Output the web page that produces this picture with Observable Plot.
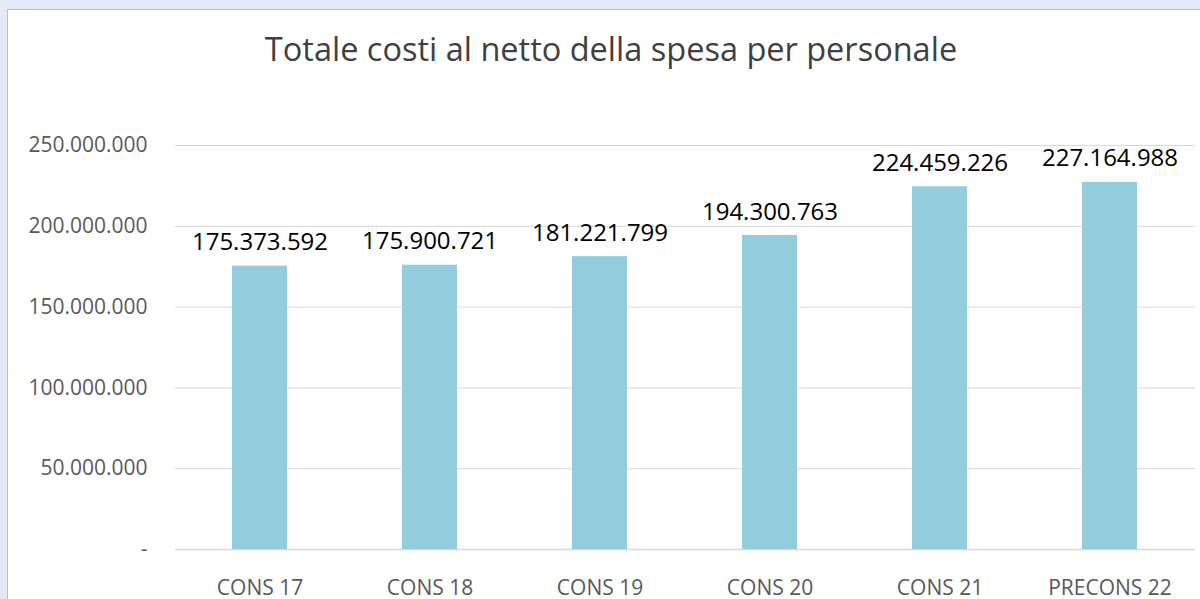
<!DOCTYPE html>
<html>
<head>
<meta charset="utf-8">
<script src="https://cdn.jsdelivr.net/npm/d3@7"></script>
<script src="https://cdn.jsdelivr.net/npm/@observablehq/plot@0.6"></script>
<style>
  html, body { margin: 0; padding: 0; }
  body {
    width: 1200px; height: 599px; overflow: hidden; position: relative;
    background: #e2eaf5;
    background-image:
      radial-gradient(circle at 20% 30%, rgba(255,255,255,0.5) 0, rgba(255,255,255,0) 40px),
      radial-gradient(circle at 70% 80%, rgba(255,255,255,0.4) 0, rgba(255,255,255,0) 50px);
    font-family: "Open Sans", sans-serif;
  }
  #panel {
    position: absolute; left: 7px; top: 9px; width: 1210px; height: 620px;
    background: #ffffff; border: 1px solid #bfbfbf; box-sizing: border-box;
  }
  #title {
    position: absolute; left: 7px; top: 33px; width: 1208px; text-align: center;
    font-family: "Open Sans", sans-serif; font-size: 32.5px; color: #404040;
    line-height: 1; white-space: nowrap;
  }
  #chart { position: absolute; left: 0; top: 100px; }
</style>
</head>
<body>
<div id="panel"></div>
<div id="title">Totale costi al netto della spesa per personale</div>
<div id="chart"></div>
<script>
const categories = ["CONS 17", "CONS 18", "CONS 19", "CONS 20", "CONS 21", "PRECONS 22"];
const values = [175373592, 175900721, 181221799, 194300763, 224459226, 227164988];
const yTicks = [0, 50000000, 100000000, 150000000, 200000000, 250000000];

const data = categories.map((c, i) => ({category: c, value: values[i]}));
const fmt = d => d3.format(",")(d).replace(/,/g, ".");
const tickFmt = d => d === 0 ? "-" : fmt(d);

const chart = Plot.plot({
  width: 1200,
  height: 499,
  marginLeft: 175,
  marginRight: 5,
  marginTop: 45,
  marginBottom: 50,
  style: {background: "transparent", fontFamily: "Open Sans, sans-serif", overflow: "visible"},
  x: {domain: categories, paddingInner: 0.676, paddingOuter: 0.338, label: null},
  y: {domain: [0, 250000000], label: null},
  marks: [
    Plot.gridY(yTicks, {stroke: "#d9d9d9", strokeOpacity: 1, strokeWidth: 1}),
    Plot.ruleY([0], {stroke: "#d9d9d9", strokeWidth: 1.5}),
    Plot.barY(data, {x: "category", y: "value", fill: "#93cddd"}),
    Plot.text(data, {x: "category", y: "value", text: d => fmt(d.value), lineAnchor: "bottom", dy: -16, fontSize: 24, fill: "#000000"}),
    Plot.axisY(yTicks, {tickFormat: tickFmt, tickSize: 0, tickPadding: 28, fontSize: 21, fill: "#595959", label: null}),
    Plot.axisX({tickSize: 0, tickPadding: 31, fontSize: 21, fill: "#595959", label: null})
  ]
});
document.getElementById("chart").appendChild(chart);
</script>
</body>
</html>
